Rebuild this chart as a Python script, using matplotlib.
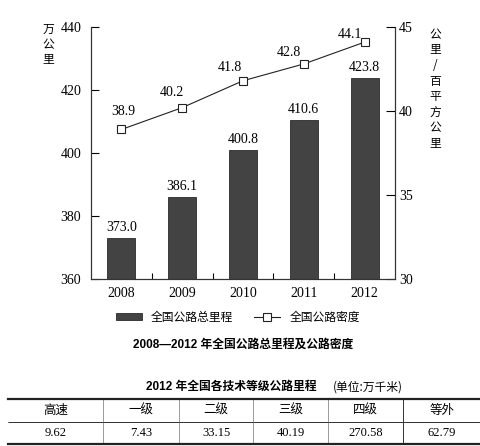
import matplotlib
matplotlib.use("Agg")
import matplotlib.pyplot as plt
from matplotlib.patches import Patch
from matplotlib.lines import Line2D

plt.rcParams['font.family'] = ['Liberation Serif', 'Noto Sans CJK SC']

years = ['2008', '2009', '2010', '2011', '2012']
mileage = [373.0, 386.1, 400.8, 410.6, 423.8]      # 万公里
density = [38.9, 40.2, 41.8, 42.8, 44.1]           # 公里/百平方公里

grades = ['高速', '一级', '二级', '三级', '四级', '等外']
grade_mileage = ['9.62', '7.43', '33.15', '40.19', '270.58', '62.79']

SERIF = ['Liberation Serif', 'Noto Sans CJK SC']
SANS = ['Liberation Sans', 'Noto Sans CJK SC']
CJK = ['Noto Sans CJK SC', 'Liberation Serif']

W, H = 481, 446
fig = plt.figure(figsize=(W / 100, H / 100), dpi=100)

def px(x0, y0, x1, y1):
    return [x0 / W, 1 - y1 / H, (x1 - x0) / W, (y1 - y0) / H]

ax = fig.add_axes(px(91, 27, 395, 279))
ax2 = ax.twinx()

BAR = '#434343'
x = list(range(len(years)))
bars = ax.bar(x, mileage, width=0.46, color=BAR, edgecolor='#2a2a2a', lw=0.6, zorder=2)
ax.set_xlim(-0.5, 4.5)
ax.set_ylim(360, 440)
ax.set_yticks([360, 380, 400, 420, 440])
ax.set_xticks(x)
ax.set_xticklabels(years)
ax.set_xticks([0.5, 1.5, 2.5, 3.5], minor=True)
ax.tick_params(axis='x', which='major', length=0, pad=6, labelsize=10)
ax.tick_params(axis='x', which='minor', direction='in', length=4.5, width=0.8)
ax.tick_params(axis='y', direction='in', length=5.5, width=0.8, pad=7, labelsize=10)
ax.spines['top'].set_visible(False)
for b, v in zip(bars, mileage):
    ax.annotate(f'{v:.1f}', (b.get_x() + b.get_width() / 2, v), xytext=(0, 4),
                textcoords='offset pixels', ha='center', va='bottom', fontsize=10, family=SERIF)

ax2.plot(x, density, color='#222222', lw=0.8, marker='s', markersize=5.5,
         markerfacecolor='white', markeredgecolor='#222222', markeredgewidth=0.8, zorder=3)
ax2.set_ylim(30, 45)
ax2.set_yticks([30, 35, 40, 45])
ax2.tick_params(axis='y', direction='in', length=6.5, width=0.8, pad=3, labelsize=10)
ax2.spines['top'].set_visible(False)
label_offsets = [(2, 18), (-10, 15), (-13, 13), (-15, 11), (-15, 8)]
for xi, v, off in zip(x, density, label_offsets):
    ax2.annotate(f'{v:.1f}', (xi, v), xytext=off, textcoords='offset pixels',
                 ha='center', va='center', fontsize=10, family=SERIF)

for a in (ax, ax2):
    for s in a.spines.values():
        s.set_linewidth(0.8)
        s.set_color('#333333')

fig.text(48 / W, 1 - 23 / H, '万\n公\n里', ha='center', va='top', fontsize=8.5,
         linespacing=1.2, family=CJK)
fig.text(435 / W, 1 - 28 / H, '公\n里\n/\n百\n平\n方\n公\n里', ha='center', va='top',
         fontsize=8.5, linespacing=1.25, family=CJK)

handles = [Patch(facecolor=BAR, edgecolor='#2a2a2a', lw=0.6),
           Line2D([], [], color='#222222', lw=0.8, marker='s', markersize=5.5,
                  markerfacecolor='white', markeredgecolor='#222222', markeredgewidth=0.8)]
fig.legend(handles, ['全国公路总里程', '全国公路密度'], loc='center',
           bbox_to_anchor=(238 / W, 1 - 317 / H), ncol=2, frameon=False,
           prop={'family': CJK, 'size': 8.5}, handlelength=2.2, handleheight=0.5,
           columnspacing=1.8, handletextpad=0.75)

fig.text(243 / W, 1 - 345 / H, '2008—2012 年全国公路总里程及公路密度', ha='center',
         va='center', fontsize=8.5, fontweight='bold', family=SANS)
fig.text(317 / W, 1 - 387 / H, '2012 年全国各技术等级公路里程', ha='right', va='center',
         fontsize=8.5, fontweight='bold', family=SANS)
fig.text(333 / W, 1 - 387 / H, '(单位:万千米)', ha='left', va='center',
         fontsize=8.5, family=CJK)

tax = fig.add_axes(px(8, 399, 481, 444))
tax.set_axis_off()
col_w = [95, 76, 75, 75, 75, 78]
tot = sum(col_w)
tbl = tax.table(cellText=[grades, grade_mileage], cellLoc='center',
                colWidths=[c / tot for c in col_w], bbox=[0, 0, 1, 1])
tbl.auto_set_font_size(False)
for (r, c), cell in tbl.get_celld().items():
    cell.set_linewidth(0.7)
    cell.set_edgecolor('#333333')
    cell.visible_edges = 'TB' if c == len(grades) - 1 else 'TBR'
    txt = cell.get_text()
    txt.set_fontsize(9)
    txt.set_family(CJK if r == 0 else SERIF)
tax.axhline(1, color='#222222', lw=1.6, clip_on=False)
tax.axhline(0, color='#222222', lw=1.6, clip_on=False)

fig.savefig('out.png', dpi=100)
